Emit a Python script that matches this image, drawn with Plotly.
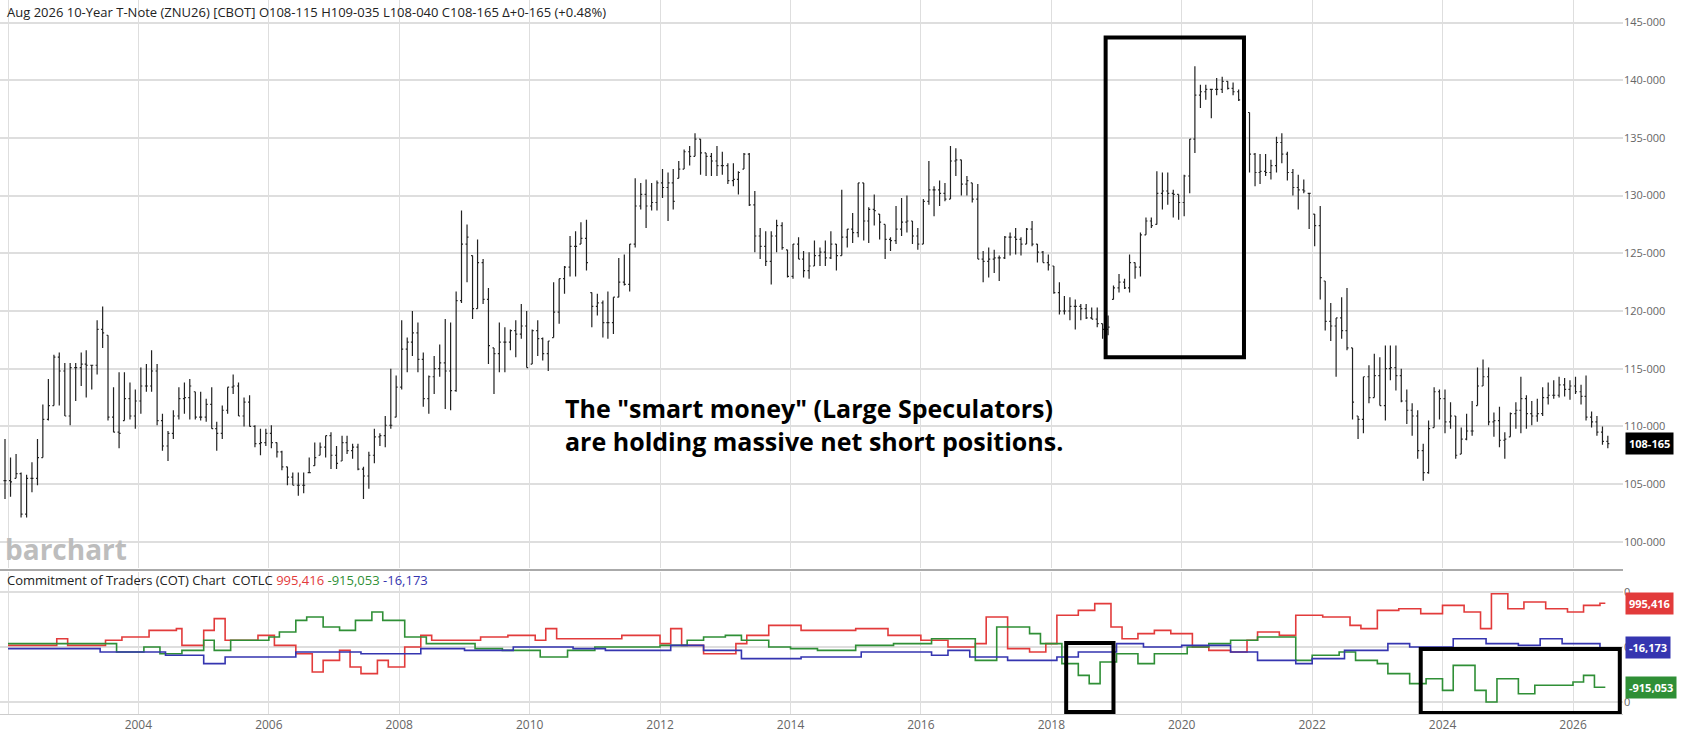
import pandas as pd
import plotly.graph_objects as go

# monthly bars, Dec 2001 .. Jul 2026 (prices in points)
highs = [
    108.9, 107.3, 107.6, 106, 105.8, 106.9, 108.9, 111.9, 114.1, 116.2, 116.4, 115.5,
    115.5, 115.5, 116.4, 116.6, 115.3, 119.2, 120.4, 117.9, 113.4, 114.7, 114.7, 113.8,
    113.2, 115.1, 115.4, 116.6, 115.4, 111.1, 109.6, 111.4, 113.4, 113.8, 114.1, 113,
    113, 112.4, 113.4, 110.4, 111.8, 113.4, 114.5, 113.8, 112.5, 112.7, 110.1, 109.8,
    109.8, 110.1, 108.6, 107.9, 106.5, 106, 106, 106, 107.3, 108.6, 108.6, 109.2,
    109.5, 108.3, 109.2, 109.2, 108.5, 108.5, 106.5, 107.8, 109.8, 109.4, 110.9, 115,
    114.4, 119.2, 117.7, 120, 119, 116.4, 114.4, 116.1, 117.1, 119.3, 119, 121.7,
    128.7, 127.5, 124.8, 126.2, 124.5, 122, 116.8, 119, 118.6, 118.4, 119.2, 120.6,
    120, 118.4, 119.2, 117.7, 117.4, 122.5, 122.8, 123.9, 126.5, 126.9, 127.7, 127.9,
    121.6, 121.5, 120.9, 121.7, 121.2, 124.6, 124.9, 125.8, 131.5, 131.1, 131.4, 131.1,
    131.3, 132.3, 132, 132.3, 133, 134, 134.3, 135.4, 134.9, 133.7, 133.7, 134.3,
    133.8, 132.8, 132.8, 132.1, 133.7, 133.7, 130.4, 127.2, 126.9, 126.9, 127.9, 127.7,
    125.3, 125.8, 126.4, 125.2, 125.1, 126.1, 125.5, 126.1, 126.9, 125.8, 130.5, 127.1,
    128.5, 131.1, 131.1, 129, 130.1, 128.4, 127.5, 126.4, 129.1, 129.8, 130, 127.8,
    127.2, 129.7, 133, 130.8, 131.3, 131.1, 134.3, 134.1, 133.1, 131.7, 131.1, 131,
    125.2, 125.5, 125.3, 124.8, 126.5, 126.8, 127.2, 126.4, 127.2, 127.8, 125.8, 125.2,
    124.9, 123.9, 122.5, 121.3, 121.2, 121, 120.6, 120.6, 120.3, 120.3, 118.9, 119.6,
    122.2, 123.2, 122.8, 124.9, 124.2, 126.8, 128.1, 128.1, 132.1, 132, 132, 130.5,
    130.1, 131.8, 134.9, 141.2, 139.6, 139.6, 139.2, 140.2, 140.3, 139.9, 139.8, 139.2,
    138.7, 137.2, 133.7, 133.6, 133.6, 133.1, 135.1, 135.4, 133.8, 132.3, 131.8, 131.4,
    130.2, 128.4, 129.1, 122.6, 120.7, 119.4, 121.2, 122, 116.8, 110.9, 114.3, 115.3,
    116.3, 116, 117, 117, 117, 115, 113.2, 112, 111.4, 108.5, 110.5, 113.4,
    113.2, 113.2, 112.1, 110.9, 109.9, 111.1, 112.2, 115.1, 115.8, 115.1, 111.2, 111.7,
    109.5, 111.2, 112.1, 114.3, 112.7, 112.2, 112.4, 113.4, 113.8, 114, 114.3, 114.2,
    114, 114.3, 113.6, 114.4, 111.3, 110.9, 110, 109.2,
]
lows = [
    103.7, 103.9, 105.5, 102.1, 102.1, 104.3, 104.9, 107.3, 110.5, 111.8, 111.8, 110.9,
    110.1, 112.2, 113.5, 112.5, 113.2, 114.5, 116.8, 110.5, 109.5, 108.1, 110.5, 110.6,
    109.8, 111.1, 113, 113, 110.1, 107.9, 107, 108.9, 110.6, 111.1, 110.6, 110.6,
    110.5, 110.4, 109.8, 107.9, 108.9, 111.1, 112.8, 110.9, 110, 110, 108.2, 107.5,
    108.3, 108.1, 107.3, 106.2, 104.9, 104.9, 104, 104.2, 106, 106.6, 107.5, 107.3,
    106.3, 106.3, 107, 107.6, 107.2, 106.2, 103.7, 104.6, 106.8, 108.3, 108.2, 109.8,
    110.8, 113.2, 114.7, 116.1, 114.7, 111.7, 111.1, 112.8, 114.3, 111.5, 111.4, 113,
    120.7, 122.5, 119.3, 120.2, 120.6, 115.4, 112.8, 114.7, 114.7, 116.6, 116, 117.6,
    115.1, 115.4, 116.1, 115.7, 114.8, 117.7, 118.9, 121.5, 123, 123, 125.8, 123.5,
    118.6, 119.6, 117.7, 117.6, 118, 121.2, 122.2, 121.7, 125.5, 128.8, 127.2, 128.7,
    128.7, 129.8, 127.8, 128.8, 131.5, 132.3, 132.6, 133.4, 131.8, 131.7, 131.7, 131.7,
    131.8, 131, 130.8, 130.1, 132.3, 129.1, 125.1, 124.5, 123.9, 122.3, 125.1, 125.3,
    122.9, 122.8, 124.5, 122.9, 122.8, 123.9, 123.9, 123.9, 124.5, 123.5, 124.8, 125.5,
    125.9, 126.4, 126.1, 125.9, 127.4, 126.2, 124.5, 125.2, 125.8, 126.5, 126.8, 125.8,
    125.3, 125.8, 129.2, 128.2, 129.1, 129.5, 129.7, 131.7, 130, 130, 129.4, 124.5,
    122.5, 122.9, 123.3, 122.6, 124.5, 124.8, 124.9, 124.8, 125.8, 125.6, 124.2, 124.2,
    123.5, 121.5, 119.7, 119.7, 119.2, 118.4, 119.2, 119.3, 119.3, 118.6, 117.6, 117.9,
    121, 121.6, 121.9, 121.6, 122.8, 123, 126.6, 127.2, 127.5, 128.8, 129.2, 128.1,
    127.9, 128.2, 130.2, 133.7, 137.6, 138.3, 136.7, 138.7, 138.9, 139.2, 138.7, 138.2,
    137.3, 132, 130.8, 131, 131.7, 131.4, 132, 132.8, 131.3, 130, 128.8, 130.2,
    127.1, 125.6, 121, 118.3, 117.4, 114.3, 117.6, 116.6, 110.6, 108.9, 109.4, 112,
    112.5, 111.8, 110.5, 114, 113.1, 112.1, 110.2, 109.2, 107.2, 105.3, 105.9, 109.9,
    110.6, 109.4, 109.8, 107.2, 107.6, 108.8, 109.2, 111.8, 113.5, 110.1, 109.1, 108.2,
    107.2, 109.1, 109.8, 109.4, 109.8, 110.1, 110.4, 110.9, 111.9, 112.4, 112.5, 112.6,
    112.3, 112.8, 111.9, 110.5, 109.9, 109.2, 108.4, 108.1,
]
closes = [
    105.3, 105.2, 105.9, 102.4, 105.5, 105.5, 107.3, 110.6, 111.8, 116, 114.8, 110.9,
    115.1, 115.1, 115.4, 115.3, 115.3, 118.4, 118.1, 110.8, 109.5, 109.4, 112.4, 110.9,
    112.2, 113.5, 113.5, 114.8, 110.5, 108.3, 109.4, 110.9, 112.4, 112.5, 113.5, 110.8,
    110.8, 111.9, 109.8, 109.4, 111.4, 113.4, 113.5, 110.9, 112.1, 110, 108.5, 108.6,
    109.4, 108.6, 107.8, 106.5, 105.6, 104.9, 104.9, 104.9, 106, 107.3, 108.2, 109.2,
    107.5, 106.8, 108.6, 107.9, 108.2, 106.3, 105.7, 107.5, 109.1, 109.2, 110.1, 110.1,
    113.4, 116.7, 117.3, 118.1, 115.8, 112.4, 114.3, 115, 115.5, 114.8, 113.1, 120.9,
    125.8, 126.4, 120.2, 124.2, 121, 117, 116.3, 117.3, 117.3, 118.3, 118, 118.7,
    115.1, 118.3, 117.6, 116.3, 117.4, 119.9, 122.8, 123.8, 125.6, 125.6, 126.3, 124.2,
    120.4, 120.7, 119, 119, 121.2, 122.5, 122.3, 125.8, 129.1, 130.1, 129.1, 129.4,
    131.1, 130.7, 131.1, 129.5, 132.3, 133.8, 133.4, 134.9, 133.7, 133.4, 133, 132.6,
    132.6, 131.3, 131.4, 132, 133.6, 129.2, 126.5, 125.6, 124.3, 126.5, 127.4, 125.5,
    123, 125.8, 124.5, 123.5, 123.9, 124.8, 125.1, 124.6, 125.8, 124.8, 126.4, 127.1,
    126.8, 131.1, 127.8, 128.8, 128.7, 127.7, 126.2, 126.1, 127.1, 127.7, 127.8, 126.5,
    125.8, 129.5, 130.5, 130.5, 130.2, 129.7, 133, 133.1, 131, 131.3, 129.7, 124.5,
    124.3, 124.5, 124.6, 124.6, 126.4, 126.4, 126.2, 125.8, 127.1, 125.8, 125.1, 124.2,
    124, 121.6, 120, 120, 120.4, 120.4, 120.2, 119.4, 119.3, 118.9, 118.4, 118.6,
    122, 122.5, 122, 124.2, 123.8, 126.6, 127.8, 127.4, 130.2, 130.4, 130.2, 130.1,
    129.4, 131.7, 134.9, 138.7, 139, 139.2, 139.2, 139.2, 139.9, 139.3, 139, 138.3,
    138, 133.6, 132, 132.1, 132, 132.6, 134.6, 133.6, 132, 130.7, 130.5, 130.4,
    130.2, 127.4, 122.9, 119.1, 118.7, 119.4, 118.3, 116.8, 112.1, 110.6, 114.3, 112.5,
    114.4, 111.8, 115, 115.1, 114.4, 112.2, 111.4, 110.9, 107.9, 106, 109.8, 113,
    112.4, 110.4, 110.9, 107.5, 108.9, 109.6, 109.6, 113.5, 114.3, 110.4, 110.5, 108.8,
    108.9, 111.1, 111.4, 112.4, 111.1, 110.9, 111.1, 112.5, 112.7, 112.7, 113.6, 113.2,
    113.5, 113, 112.6, 110.8, 110.4, 109.5, 108.7, 108.5,
]

# COT net positions, thousands of contracts
red_dates = ["2002-01", "2002-10", "2002-12", "2003-07", "2003-10", "2004-03", "2004-08", "2004-09",
             "2005-01", "2005-03", "2005-05", "2005-11", "2006-02", "2006-06", "2006-09", "2006-11",
             "2007-02", "2007-04", "2007-06", "2007-09", "2007-11", "2008-02", "2008-05", "2008-07",
             "2009-04", "2009-09", "2010-02", "2010-04", "2010-06", "2011-01", "2011-06", "2012-01",
             "2012-03", "2012-05", "2012-09", "2013-01", "2013-03", "2013-05", "2013-09", "2014-03",
             "2015-01", "2015-07", "2016-01", "2016-06", "2016-11", "2017-01", "2017-05", "2017-09",
             "2017-12", "2018-02", "2018-06", "2018-09", "2018-12", "2019-02", "2019-05", "2019-08",
             "2019-11", "2020-03", "2020-06", "2020-10", "2021-01", "2021-03", "2021-07", "2021-10",
             "2022-03", "2022-08", "2022-10", "2023-01", "2023-05", "2023-09", "2024-01", "2024-05",
             "2024-08", "2024-10", "2025-01", "2025-04", "2025-08", "2025-12", "2026-03", "2026-06",
             "2026-07"]
red_vals = [38, 189, 38, 152, 227, 379, 417, 38,
            379, 644, 152, 265, 38, -152, -568, -303,
            -76, -455, -606, -303, -455, 0, 265, 152,
            227, 265, 152, 417, 189, 189, 265, 76,
            417, 38, -152, -152, 76, 265, 492, 379,
            417, 265, 152, 0, 76, 682, -38, -114,
            76, 720, 833, 985, 455, 189, 303, 379,
            303, 0, -76, -114, 152, 341, 265, 720,
            682, 492, 417, 833, 871, 758, 947, 795,
            417, 1212, 871, 1023, 871, 795, 947, 995,
            995]

green_dates = ["2002-01", "2003-06", "2003-09", "2004-02", "2004-05", "2004-09", "2005-01", "2005-03",
               "2005-06", "2006-01", "2006-03", "2006-06", "2006-08", "2006-11", "2007-02", "2007-05",
               "2007-08", "2007-10", "2008-02", "2008-06", "2009-03", "2009-08", "2010-03", "2010-08",
               "2011-01", "2012-01", "2012-06", "2012-09", "2013-01", "2013-04", "2013-09", "2014-01",
               "2014-06", "2015-01", "2015-08", "2016-03", "2016-11", "2017-03", "2017-09", "2017-11",
               "2018-03", "2018-06", "2018-08", "2018-10", "2019-01", "2019-05", "2019-08", "2020-02",
               "2020-06", "2020-10", "2021-03", "2021-10", "2022-01", "2022-06", "2022-09", "2023-01",
               "2023-03", "2023-07", "2023-10", "2024-01", "2024-03", "2024-07", "2024-09", "2024-11",
               "2025-03", "2025-06", "2026-01", "2026-03", "2026-05", "2026-07"]
green_vals = [76, 76, -114, 0, -152, -76, 152, -76,
              152, 227, 341, 606, 682, 455, 379, 606,
              795, 606, 227, 76, -38, -76, -227, -76,
              0, 38, 152, 227, 265, 152, 0, -38,
              -76, 38, 76, 189, -303, 455, 303, 76,
              -379, -644, -833, -341, -152, -379, -152, 0,
              76, 152, 227, -303, -189, -114, -303, -379,
              -606, -833, -720, -985, -417, -985, -1250, -720,
              -1061, -871, -795, -644, -915, -915]

blue_dates = ["2002-01", "2003-06", "2004-06", "2005-01", "2005-05", "2006-06", "2007-06", "2008-05",
              "2009-01", "2009-10", "2010-09", "2011-03", "2012-03", "2012-09", "2013-04", "2014-03",
              "2015-02", "2016-03", "2016-06", "2016-10", "2017-05", "2018-02", "2018-06", "2019-01",
              "2019-06", "2020-01", "2020-10", "2021-03", "2021-10", "2022-01", "2022-07", "2023-03",
              "2023-07", "2024-03", "2024-09", "2025-03", "2025-07", "2025-11", "2026-06", "2026-07"]
blue_vals = [-38, -114, -189, -379, -227, -114, -152, -38,
             -76, 0, -38, -76, 38, -76, -265, -227,
             -114, -189, -76, -227, -303, -227, -114, 76,
             0, 38, -114, -303, -379, -265, -76, 76,
             0, 189, 76, 38, 189, 76, -16, -16]

price_ticks = [100, 105, 110, 115, 120, 125, 130, 135, 140, 145]

dates = pd.date_range("2001-12-01", periods=len(closes), freq="MS") + pd.Timedelta(days=14)
opens = [closes[0]] + closes[:-1]
opens = [min(max(o, l), h) for o, l, h in zip(opens, lows, highs)]

fig = go.Figure()
fig.add_trace(go.Ohlc(x=dates, open=opens, high=highs, low=lows, close=closes,
                      increasing_line_color="#222", decreasing_line_color="#222",
                      line_width=1.2, tickwidth=0.3, xaxis="x", yaxis="y", showlegend=False,
                      hoverinfo="skip"))
for d, v, c in [(red_dates, red_vals, "#e23b3b"), (green_dates, green_vals, "#2f8f36"),
                (blue_dates, blue_vals, "#3535b0")]:
    fig.add_trace(go.Scatter(x=pd.to_datetime(d), y=v, mode="lines", line=dict(color=c, width=1.6, shape="hv"),
                             xaxis="x2", yaxis="y2", showlegend=False, hoverinfo="skip"))

xr = ["2001-11-17", "2026-10-08"]
grid = "#dedede"
fig.update_layout(
    width=1697, height=739, margin=dict(l=0, r=74, t=0, b=25),
    plot_bgcolor="white", paper_bgcolor="white",
    font=dict(family="Open Sans", color="#555", size=11),
    xaxis=dict(domain=[0, 1], anchor="y", range=xr, showticklabels=False, rangeslider_visible=False,
               showgrid=True, gridcolor=grid, dtick="M24", tick0="2002-01-01", zeroline=False),
    xaxis2=dict(domain=[0, 1], anchor="y2", range=xr, showgrid=True, gridcolor=grid, dtick="M24",
                tick0="2002-01-01", tickformat="%Y", tickfont=dict(size=12, color="#666"),
                showline=True, linecolor="#ccc", ticks=""),
    yaxis=dict(domain=[0.2045, 1], range=[97.73, 146.95], side="right", tickvals=price_ticks,
               ticktext=[f"{v}-000" for v in price_ticks], gridcolor=grid, gridwidth=1.5,
               zeroline=False, tickfont=dict(size=11, color="#666")),
    yaxis2=dict(domain=[0, 0.1989], range=[-1523, 1705], side="right", tickvals=[-1250, 0, 1250],
                ticktext=["0", "0", "0"], gridcolor=grid, gridwidth=1.5, zeroline=False,
                tickfont=dict(size=11, color="#666")),
)

fig.add_shape(type="line", xref="paper", yref="paper", x0=0, x1=1, y0=0.2017, y1=0.2017,
              line=dict(color="#aaa", width=2))
# highlight boxes
fig.add_shape(type="rect", xref="x", yref="y", x0="2018-11-01", x1="2020-12-15", y0=116.0, y1=143.7,
              line=dict(color="black", width=4))
fig.add_shape(type="rect", xref="x2", yref="y2", x0="2018-03-25", x1="2018-12-15", y0=91, y1=-1480,
              line=dict(color="black", width=4))
fig.add_shape(type="rect", xref="x2", yref="y2", x0="2023-09-01", x1="2026-09-20", y0=-45, y1=-1500,
              line=dict(color="black", width=4))

fig.add_annotation(text="Aug 2026 10-Year T-Note (ZNU26) [CBOT] O108-115 H109-035 L108-040 C108-165 Δ+0-165 (+0.48%)",
                   xref="paper", yref="paper", x=0.003, y=1, xanchor="left", yanchor="top", yshift=-1,
                   showarrow=False, font=dict(size=13, color="#222"))
fig.add_annotation(text="<b>barchart</b>", xref="paper", yref="y", x=0.002, y=99.4, xanchor="left",
                   showarrow=False, font=dict(size=28, color="#bdbdbd", family="Open Sans"))
fig.add_annotation(text=('<b>The "smart money" (Large Speculators)</b><br>'
                         '<b>are holding massive net short positions.</b>'),
                   xref="x", yref="y", x="2010-07-05", y=110.2, xanchor="left", align="left",
                   showarrow=False, font=dict(size=25, color="black", family="Open Sans"))
fig.add_annotation(text='Commitment of Traders (COT) Chart  COTLC <span style="color:#e23b3b">995,416</span> '
                        '<span style="color:#2f8f36">-915,053</span> <span style="color:#3535b0">-16,173</span>',
                   xref="paper", yref="y2 domain", x=0.003, y=1.02, xanchor="left", yanchor="top",
                   showarrow=False, font=dict(size=13, color="#222"))

for val, txt, bg, yr in [(108.52, "108-165", "black", "y"), (995, "995,416", "#e23b3b", "y2"),
                         (-16, "-16,173", "#3535b0", "y2"), (-915, "-915,053", "#2f8f36", "y2")]:
    fig.add_annotation(text=f"<b>{txt}</b>", xref="paper", yref=yr, x=1, y=val, xanchor="left",
                       showarrow=False, bgcolor=bg, font=dict(size=11, color="white"),
                       borderpad=3, xshift=2)

# page body margin would shift the whole chart by 8px
fig.write_html("out.html", config={"displayModeBar": False},
               post_script="document.body.style.margin='0';")
